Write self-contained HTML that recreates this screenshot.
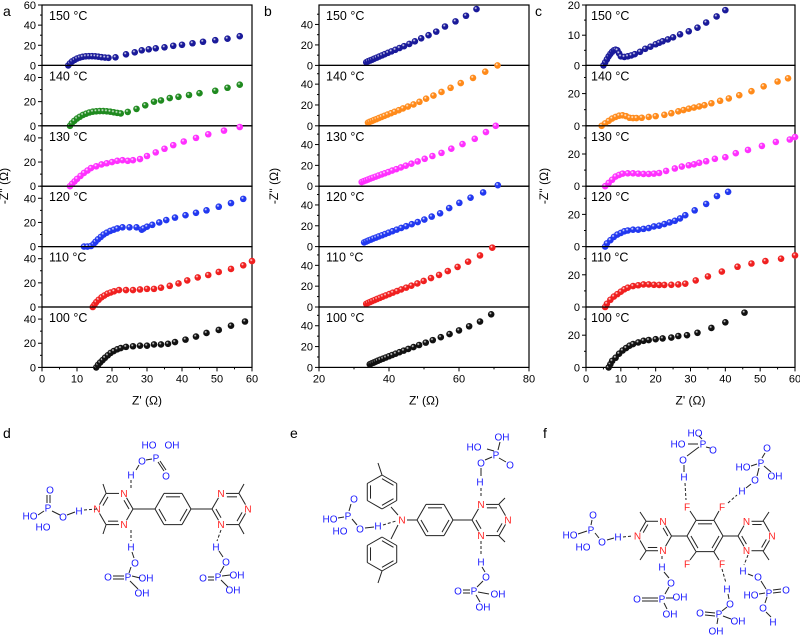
<!DOCTYPE html>
<html><head><meta charset="utf-8">
<style>
html,body{margin:0;padding:0;background:#fff;}
svg{display:block;font-family:"Liberation Sans",Arial,sans-serif;}
</style></head>
<body>
<svg id="fig" width="800" height="635" viewBox="0 0 800 635" xmlns="http://www.w3.org/2000/svg">
<defs id="defs"></defs>
<g id="charts"></g>
<g id="chem"></g>
</svg>
<script>
// ---------- DATA ----------
const temps = ["150 °C","140 °C","130 °C","120 °C","110 °C","100 °C"];
// panel a
const a150x=[7.5,8,8.6,9.3,10,10.8,11.6,12.5,13.4,14.3,15.2,16.1,17,18,19,21,24,26.5,28.5,30.5,32.5,35,37.5,40,43,46,49.5,53,56.5];
const a150y=[0,2,4,5.5,6.8,7.8,8.5,9,9.2,9.2,9,8.7,8.2,7.8,7.5,8,11,13,15,16,17,18,19.5,20.5,22,23.5,25,26.5,29];
const a140x=[8,8.5,9.2,10,10.8,11.7,12.6,13.5,14.5,15.5,16.5,17.5,18.5,19.5,20.5,21.5,22.5,24.5,27,29.5,32,34,36.5,39,42,45,49.5,53,56.5];
const a140y=[0,2,4,6,7.5,9,10,11,11.7,12,12.2,12.2,12,11.7,11.2,10.7,10.2,11.5,14,17,20,21,23,24,25.5,27,29,31.5,34];
const a130x=[8,8.6,9.3,10,11,12,13,14,15.5,17,18.5,20,21.5,23,24.5,26,28,30,32.5,35,37.5,40.5,44,47.5,52,56.5];
const a130y=[0,2,4,6,8.5,11,13,15,16.5,18,19,20,21,21.5,21,21.5,22.5,25,28,31,34,37,40,43,46,49];
const a120x=[12,13,14,14.7,15.3,16,16.8,17.6,18.5,19.5,20.5,21.5,23,25,27,28.5,29,30,31.5,33.5,35.5,38,41,44,47,50.5,54,57.5];
const a120y=[0,0,0.5,2,4,6,8,10,11.5,13,14,15,16,16,16,14,15,16.5,18,20,22,24,26,28,30,33,36,39.5];
const a110x=[14.5,15,15.5,16.2,17,17.8,18.7,19.6,20.6,22,24,26,28,30,32,34,36.5,39,41.5,44.5,47.5,50.5,54,57.5,60];
const a110y=[0,2,4,6,8,9.5,11,12,13,14,14,14,14.5,15,15,16,17.5,19.5,22,24.5,26.5,29,31.5,34.5,38];
const a100x=[15.5,16,16.6,17.3,18,18.8,19.6,20.5,21.5,22.5,24,26,28,30,32,34,36,38,41,44,47,50.5,54,58];
const a100y=[0,2,4,6,8,10,12,13.5,15,16,17,17.5,18,18,19,19,19.5,21,23,25.5,28.5,31,34.5,38];
// panel b
const b150x=[33.5,34,34.6,35.2,35.8,36.5,37.2,38,38.8,39.7,40.7,41.8,43,44.3,45.8,47.4,49.2,51.3,53.5,56,59,62,65];
const b150y=[3,4,4.8,5.6,6.6,7.6,8.6,9.8,11,12.3,13.7,15.2,17,18.8,21,23.5,26.5,29.5,33,38,43,48.5,55];
const b140x=[34,34.5,35.1,35.7,36.4,37.1,37.9,38.7,39.6,40.6,41.6,42.8,44,45.4,47,48.7,50.6,52.7,55,57.6,60.5,64,67.5,71];
const b140y=[3,3.8,4.6,5.5,6.4,7.4,8.5,9.6,10.8,12.1,13.5,15,16.7,18.5,20.5,23,26,29,32.5,36.5,41,46,52,58];
const b130x=[32.2,32.8,33.4,34,34.7,35.4,36.2,37,37.9,38.8,39.8,40.9,42.1,43.4,44.8,46.4,48.2,50.2,52.4,55,57.8,61,64.5,67.7,70.5];
const b130y=[4,4.8,5.6,6.4,7.3,8.2,9.2,10.2,11.3,12.4,13.6,15,16.4,18,19.7,21.6,23.8,26.3,29,32,36,40.5,45.5,52,58];
const b120x=[32.9,33.5,34.1,34.8,35.5,36.3,37.1,38,38.9,39.9,41,42.2,43.5,44.9,46.5,48.2,50.1,52.2,54.6,57.2,60.1,63.3,66.9,71.1];
const b120y=[4,4.9,5.8,6.7,7.7,8.7,9.8,10.9,12.1,13.4,14.8,16.3,17.9,19.6,21.5,23.6,26,28.8,32,37,42,47,52,59];
const b110x=[33.5,34,34.6,35.2,35.9,36.6,37.4,38.2,39.1,40.1,41.1,42.3,43.5,44.9,46.4,48.1,49.9,52,54.3,56.8,59.6,62.6,66,69.5];
const b110y=[3,3.9,4.8,5.7,6.7,7.7,8.8,9.9,11.1,12.4,13.8,15.3,16.9,18.6,20.5,22.6,25,27.8,30.8,34.5,38.5,43.5,49.5,57];
const b100x=[34.5,35,35.6,36.2,36.8,37.5,38.3,39.1,40,40.9,41.9,43,44.2,45.5,47,48.6,50.5,52.5,54.8,57.3,60,62.9,66,69.2];
const b100y=[3,3.8,4.6,5.5,6.4,7.4,8.4,9.5,10.7,11.9,13.2,14.6,16.1,17.7,19.5,21.5,23.8,26.2,29,32,35.5,39.5,44,51];
// panel c
const c150x=[5,5.5,6,6.5,7,7.5,8,8.5,9,9.5,10,11,12,13,14,15.5,17,18.5,20,21,22,23.5,25,27,29.5,32,34.5,37.5,40];
const c150y=[0,1,2,3,3.8,4.5,5,5.2,5,4,3,2.8,3,3.3,3.7,4.5,5.5,6.2,7,7.5,8,8.6,9.3,10.3,11.3,12.5,14.2,16.2,18.3];
const c140x=[4.5,5.5,6.5,7.5,8.5,9.5,10.5,11.5,12.5,13.5,14.5,16,18,20,22.5,24.5,26.5,28,29.5,31,32.5,34,36,38.5,41,44,47.5,51,55,58];
const c140y=[0,1.5,3,4.5,5.5,6.3,6.5,6,5,4.8,4.8,5,5.5,6,6.8,7.8,9,9.8,10.6,11.3,12,12.8,14,15.5,17,19,21.5,24.5,27.5,29.5];
const c130x=[5.5,6.5,7.5,8.5,9.5,10.5,12,13.5,15,16.5,18,19.5,21,23,25.5,27.5,29.5,31,32.5,34.5,37,40,43,46.5,50.5,54.5,58.5,60];
const c130y=[0,2,4,6,7,7.8,8,8,7.8,7.6,7.6,7.8,8.2,9.5,11,12.2,13,13.6,14.5,15.5,17,18,20.5,22.5,25,27.5,29,30.5];
const c120x=[5.5,6,7,8,9,10,11,12,13.5,15,16.5,18,19.5,21,22.5,24,25.5,27,28.5,31.2,34.5,37.6,40.8];
const c120y=[0,2,4,6,7.5,8.5,9.5,10,10.5,10.5,11,11.5,12.5,13,14,15,16,17.5,19.5,22.5,26.5,31.4,34];
const c110x=[5.5,6,7,8,9,10,11,12,13.5,15,16.5,18,19.5,21,22.5,24.5,26.5,28.5,31.5,35,39,43.5,47.5,51.5,56,60];
const c110y=[0,2,4.5,6.5,8,9.5,11,12,13,13.5,14,14,13.8,13.7,13.7,13.8,14,14.5,16.5,19,22,25,27,28.5,30,32];
const c100x=[6.5,7,7.5,8.5,9.5,10.5,11.5,12.5,13.5,15,16.5,18,20,22,24.5,26.5,29,32,36,40,45.5];
const c100y=[0,2,4,6,8.5,10.5,12,13.5,14.5,15.5,16.5,17,17.5,18,18.5,19.5,20,21.5,24.5,28,34];
const aXTicks=[0,10,20,30,40,50,60];
const bXTicks=[20,40,60,80];
const cXTicks=[0,10,20,30,40,50,60];
const aYMax=[60,50,50,50,50,50];
const bYMax=[59,58,58,58,58,58];
const cYMax=[20,37.5,37.5,37.5,37.5,37.5];

// ---------- DRAWING ----------
const NS="http://www.w3.org/2000/svg";
function mk(tag,attrs,parent){const e=document.createElementNS(NS,tag);for(const k in attrs)e.setAttribute(k,attrs[k]);if(parent)parent.appendChild(e);return e;}
const defs=document.getElementById('defs');
const colors={navy:"#1a1a9a",green:"#1f8a1f",mag:"#ff30ff",blue:"#2238f0",red:"#f02020",black:"#111111",orange:"#ff8a1a"};
for(const k in colors){
  const g=mk('radialGradient',{id:'g-'+k,cx:'38%',cy:'35%',r:'65%'},defs);
  mk('stop',{offset:'0%','stop-color':'#ffffff'},g);
  mk('stop',{offset:'35%','stop-color':colors[k]},g);
  mk('stop',{offset:'100%','stop-color':colors[k]},g);
}
const charts=document.getElementById('charts');
const T0=5,H=60.4;
const panels=[
 {name:'a',x0:42,x1:252,xmin:0,xmax:60,xt:aXTicks,ymax:aYMax,
  series:[[a150x,a150y,'navy'],[a140x,a140y,'green'],[a130x,a130y,'mag'],[a120x,a120y,'blue'],[a110x,a110y,'red'],[a100x,a100y,'black']],lx:3,tx:8},
 {name:'b',x0:319,x1:529,xmin:20,xmax:80,xt:bXTicks,ymax:bYMax,
  series:[[b150x,b150y,'navy'],[b140x,b140y,'orange'],[b130x,b130y,'mag'],[b120x,b120y,'blue'],[b110x,b110y,'red'],[b100x,b100y,'black']],lx:264,tx:278},
 {name:'c',x0:586,x1:795,xmin:0,xmax:60,xt:cXTicks,ymax:cYMax,
  series:[[c150x,c150y,'navy'],[c140x,c140y,'orange'],[c130x,c130y,'mag'],[c120x,c120y,'blue'],[c110x,c110y,'red'],[c100x,c100y,'black']],lx:535,tx:548}
];
panels.forEach(p=>{
  const pg=mk('g',{},charts);
  
  
  const lab=mk('text',{x:p.lx,y:16,'font-size':14,fill:'#000'},pg);lab.textContent=p.name;
  
  
  const sx=v=>p.x0+(v-p.xmin)/(p.xmax-p.xmin)*(p.x1-p.x0);
  const bottom=T0+6*H;
  for(let i=0;i<6;i++){
    const top=T0+i*H, bot=top+H, ym=p.ymax[i];
    const sy=v=>bot-v/ym*H;
    const sg=mk('g',{},pg);
    
    
    let major=20,minor=10;
    if(ym<=20){major=10;minor=5;}
    for(let v=0;v<=ym+0.01;v+=minor){
      const isMaj=Math.abs(v/major-Math.round(v/major))<1e-6;
      mk('line',{x1:p.x0-(isMaj?4:2),x2:p.x0,y1:sy(v),y2:sy(v),stroke:'#000','stroke-width':1},sg);
      if(isMaj && (i===0 || v<ym-3)){
        const t=mk('text',{x:p.x0-6,y:sy(v)+4,'font-size':11,'text-anchor':'end',fill:'#000'},sg);
        t.textContent=String(v);
        
        
      }
    }
    const fr=mk('rect',{x:p.x0,y:top,width:p.x1-p.x0,height:H,fill:'none',stroke:'#000','stroke-width':1.2},sg);
    
    
    const tl=mk('text',{x:p.x0+(p.name==='c'?5:7),y:top+15,'font-size':12.5,fill:'#000'},sg);
    tl.textContent=temps[i];
    
    
    const [xs,ys,col]=p.series[i];
    const cg=mk('g',{},sg);
    
    
    for(let k=0;k<xs.length;k++){
      const c=mk('circle',{cx:sx(xs[k]),cy:sy(ys[k]),r:3.3,fill:'url(#g-'+col+')'},cg);
      
      
    }
  }
  const step=p.xt[1]-p.xt[0];
  for(let v=p.xmin;v<=p.xmax+0.01;v+=step/2){
    const isMaj=p.xt.some(t=>Math.abs(t-v)<1e-6);
    mk('line',{x1:sx(v),x2:sx(v),y1:bottom,y2:bottom+(isMaj?4:2),stroke:'#000','stroke-width':1},pg);
  }
  p.xt.forEach(v=>{
    const t=mk('text',{x:sx(v),y:bottom+15,'font-size':11,'text-anchor':'middle',fill:'#000'},pg);
    t.textContent=String(v);
    
    
  });
  const xt=mk('text',{x:(p.x0+p.x1)/2,y:bottom+37,'font-size':12,'text-anchor':'middle',fill:'#000'},pg);
  xt.textContent="Z' (Ω)";
  
  
  const yt=mk('text',{x:0,y:0,'font-size':12,'text-anchor':'middle',fill:'#000',transform:'translate('+p.tx+',186) rotate(-90)'},pg);
  yt.textContent="-Z'' (Ω)";
  
  
});

// ---------- CHEMISTRY ----------
const chem=document.getElementById('chem');
const BL='#1a1aff',RD='#ff2020';
function grp(name){const g=mk('g',{},chem);return g;}
function ln(g,x1,y1,x2,y2,dash,col){mk('line',{x1,y1,x2,y2,stroke:col||'#222','stroke-width':1,'stroke-dasharray':dash?'3,2':'none'},g);}
function tx(g,s,x,y,col){const t=mk('text',{x,y:y+3.5,'font-size':10,'text-anchor':'middle',fill:col||BL},g);t.textContent=s;return t;}
function hex(g,cx,cy,r,flat,labels,inner){
  const pts=[];
  for(let i=0;i<6;i++){const a=(flat?0:30)+60*i;pts.push([cx+r*Math.cos(a*Math.PI/180),cy-r*Math.sin(a*Math.PI/180)]);}
  for(let i=0;i<6;i++){
    const p1=pts[i],p2=pts[(i+1)%6];
    let a=[...p1],b=[...p2];
    const sh=(p,q)=>{const dx=q[0]-p[0],dy=q[1]-p[1],l=Math.hypot(dx,dy);return [p[0]+dx/l*5,p[1]+dy/l*5];};
    if(labels&&labels[i])a=sh(p1,p2);
    if(labels&&labels[(i+1)%6])b=sh(p2,p1);
    ln(g,a[0],a[1],b[0],b[1]);
    if(inner&&inner.includes(i)){
      const f=0.78;ln(g,cx+(a[0]-cx)*f,cy+(a[1]-cy)*f,cx+(b[0]-cx)*f,cy+(b[1]-cy)*f);
    }
  }
  if(labels)labels.forEach((l,i)=>{if(l)tx(g,l,pts[i][0],pts[i][1],RD);});
  return pts;
}
function lbl(g,s,x,y,col){const t=mk('text',{x,y,'font-size':14,fill:col||'#000'},g);t.textContent=s;}
// ---- d ----
let g=grp('structure-d');
lbl(g,'d',3,438);
hex(g,115,509,18,true,['', 'N','', 'N','', 'N'],[0,2,4]);
hex(g,173,509,18,true,null,[1,3,5]);
hex(g,230,509,18,true,['N','','N','','N',''],[1,3,5]);
ln(g,133,509,155,509);ln(g,191,509,212,509);
ln(g,106,493,103,484);ln(g,106,525,103,534);ln(g,239,493,244,484);ln(g,239,525,244,534);
tx(g,'H',131,475);ln(g,131,480,131,488,true);tx(g,'O',142,461);tx(g,'P',156,458);tx(g,'HO',149,445);tx(g,'OH',172,445);tx(g,'O',166,476);
ln(g,136,470,139,465);ln(g,146,460,152,459);ln(g,158,462,164,471);ln(g,160,461,166,470);
tx(g,'O',50,490);tx(g,'P',48,508);tx(g,'HO',30,516);tx(g,'HO',43,527);tx(g,'O',63,517);tx(g,'H',79,511);ln(g,84,510,97,509,true);ln(g,47,495,47,503);ln(g,50,495,50,503);ln(g,52,511,60,515);ln(g,67,515,75,512);ln(g,38,515,44,511);
tx(g,'H',131,547);ln(g,131,530,131,541,true);tx(g,'O',135,563);tx(g,'P',128,577);tx(g,'O',108,577);tx(g,'OH',146,578);tx(g,'OH',142,593);ln(g,132,552,134,558);ln(g,113,576,124,576);ln(g,113,579,124,579);ln(g,132,576,140,578);ln(g,130,581,138,589);ln(g,131,567,129,573);
tx(g,'H',216,547);ln(g,221,530,217,541,true);tx(g,'O',226,562);tx(g,'P',218,577);tx(g,'O',203,578);tx(g,'OH',237,575);tx(g,'OH',233,590);ln(g,219,551,223,557);ln(g,208,577,214,577);ln(g,208,580,214,580);ln(g,222,576,230,575);ln(g,221,580,228,587);ln(g,224,566,220,573);
// ---- e ----
g=grp('structure-e');
lbl(g,'e',290,438);
hex(g,382,492,17,false,null,[0,2,4]);
hex(g,382,554,17,false,null,[0,2,4]);
tx(g,'N',402,520,RD);
hex(g,435,520,18,true,null,[1,3,5]);
hex(g,490,520,18,true,['N','','N','','N',''],[1,3,5]);
ln(g,391,507,398,515);ln(g,391,539,398,525);ln(g,407,520,417,520);ln(g,453,520,472,520);
ln(g,382,475,378,463);ln(g,382,571,378,583);ln(g,499,504,505,498);ln(g,499,536,505,542);
tx(g,'H',480,482);ln(g,481,488,481,498,true);tx(g,'O',481,463);tx(g,'P',496,455);tx(g,'HO',474,447);tx(g,'OH',502,437);tx(g,'O',510,465);ln(g,481,468,481,476);ln(g,485,460,492,457);ln(g,499,458,506,462);ln(g,494,451,487,449);ln(g,498,450,500,442);
tx(g,'O',354,499);tx(g,'P',348,516);tx(g,'HO',330,519);tx(g,'HO',340,531);tx(g,'O',360,529);tx(g,'H',378,526);ln(g,383,525,396,521,true);ln(g,351,504,349,511);ln(g,338,518,344,517);ln(g,352,519,357,525);ln(g,365,528,374,527);
tx(g,'H',481,562);ln(g,481,541,481,556,true);tx(g,'O',486,577);tx(g,'P',474,591);tx(g,'O',458,591);tx(g,'OH',498,594);tx(g,'OH',483,607);ln(g,482,567,485,572);ln(g,463,590,470,590);ln(g,463,593,470,593);ln(g,478,592,489,594);ln(g,476,595,480,602);ln(g,483,581,477,587);
// ---- f ----
g=grp('structure-f');
lbl(g,'f',543,438);
hex(g,654.5,536,17,true,['','N','','N','','N'],[0,2,4]);
hex(g,705,536,18,true,null,[1,3,5]);
hex(g,755,536,17,true,['N','','N','','N',''],[1,3,5]);
ln(g,671.5,536,687,536);ln(g,723,536,738,536);
ln(g,696,520,690,511);ln(g,714,520,719,511);ln(g,696,552,690,560);ln(g,714,552,719,560);
tx(g,'F',687,507,RD);tx(g,'F',722,507,RD);tx(g,'F',687,564,RD);tx(g,'F',722,564,RD);
ln(g,646,521,640,512);ln(g,646,551,640,560);ln(g,763,521,769,512);ln(g,763,551,769,560);
tx(g,'H',684,477);ln(g,685,483,686,500,true);tx(g,'O',683,460);tx(g,'P',703,444);tx(g,'HO',678,444);tx(g,'HO',695,433);tx(g,'O',713,450);ln(g,684,465,684,472);ln(g,687,456,699,447);ln(g,688,444,698,444);ln(g,706,447,710,448);ln(g,702,439,699,436);
tx(g,'H',742,491);ln(g,728,503,737,495,true);tx(g,'O',755,480);tx(g,'P',761,463);tx(g,'HO',743,467);tx(g,'OH',775,476);tx(g,'O',767,448);ln(g,746,488,751,484);ln(g,757,476,759,468);ln(g,751,466,757,464);ln(g,764,466,771,472);ln(g,762,458,765,453);
tx(g,'O',593,515);tx(g,'P',591,530);tx(g,'HO',570,535);tx(g,'HO',583,547);tx(g,'O',602,542);tx(g,'H',618,537);ln(g,623,537,632,536,true);ln(g,592,520,591,525);ln(g,578,534,587,531);ln(g,595,533,599,538);ln(g,607,540,614,538);
tx(g,'H',662,567);ln(g,662,556,662,561,true);tx(g,'O',671,583);tx(g,'P',662,599);tx(g,'O',637,599);tx(g,'OH',680,597);tx(g,'OH',670,614);ln(g,664,572,669,578);ln(g,642,598,658,598);ln(g,642,601,658,601);ln(g,666,598,673,598);ln(g,664,603,667,609);ln(g,669,587,665,594);
tx(g,'H',727,589);ln(g,722,569,726,583,true);tx(g,'O',730,604);tx(g,'P',719,614);tx(g,'O',700,613);tx(g,'OH',738,621);tx(g,'OH',716,631);ln(g,728,594,729,599);ln(g,705,612,715,613);ln(g,705,615,715,616);ln(g,723,616,731,619);ln(g,718,618,717,624);ln(g,727,607,722,611);
tx(g,'H',743,571);ln(g,748,555,744,565,true);tx(g,'O',758,577);tx(g,'P',769,593);tx(g,'HO',751,595);tx(g,'O',786,590);tx(g,'O',763,608);tx(g,'H',773,622);ln(g,748,574,753,576);ln(g,761,581,766,589);ln(g,759,594,765,593);ln(g,773,590,781,589);ln(g,773,593,781,592);ln(g,767,597,765,603);ln(g,766,612,771,617);
</script>
</body></html>
